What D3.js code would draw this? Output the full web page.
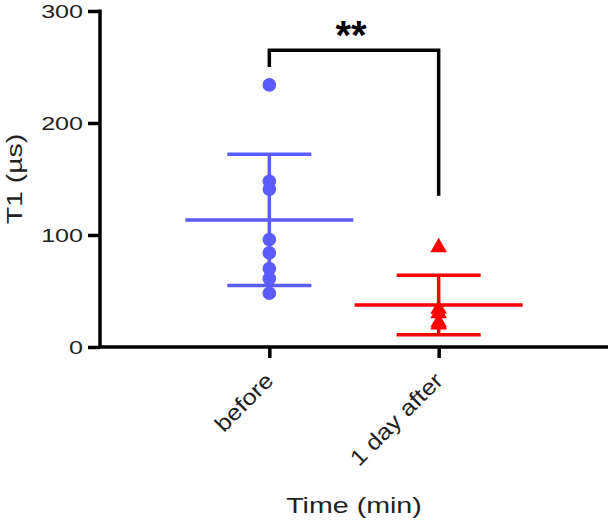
<!DOCTYPE html>
<html>
<head>
<meta charset="utf-8">
<script src="https://cdn.jsdelivr.net/npm/d3@7"></script>
<style>
  body { margin: 0; background: #fff; }
  text { font-family: "Liberation Sans", Arial, sans-serif; }
</style>
</head>
<body>
<div id="chart"></div>
<script>
// groups and values
const groups = ['before', '1 day after'];
const beforeValues = [234, 148, 141, 96, 84, 70, 61, 48];
const afterValues = [89, 34, 30, 22, 20];
const groupMeans = [113.5, 37.5];
const groupSDs = [58.5, 26.5];
const groupColors = ['#5b5bff', '#ff0000'];
const yTicks = [0, 100, 200, 300];
const sigLabel = '**';
const sigTop = 265;         // bracket height, in T1 units
const sigLegs = [250, 135]; // where each leg stops

const width = 610, height = 525;

// the original font is set wider than Liberation Sans, so stretch the glyphs a bit
function stretch(sel, k) {
  sel.each(function () {
    const len = this.getComputedTextLength();
    d3.select(this).attr('textLength', len * k).attr('lengthAdjust', 'spacingAndGlyphs');
  });
}

const svg = d3.select('#chart').append('svg')
  .attr('width', width)
  .attr('height', height);

const x = d3.scaleLinear().domain([-1, 2]).range([100, 608]);
const y = d3.scaleLinear().domain([0, 300]).range([347, 11]);

// y axis
const yAxis = svg.append('g')
  .attr('transform', 'translate(100,0)')
  .call(d3.axisLeft(y).tickValues(yTicks).tickSize(12).tickPadding(5));
yAxis.select('.domain').attr('stroke', '#000').attr('stroke-width', 3.5)
  .attr('d', `M0,${y(300) - 1.5}V${y(0)}`);
yAxis.selectAll('.tick line').attr('stroke-width', 3.5);
yAxis.selectAll('.tick text').attr('font-size', 19).attr('fill', '#222')
  .attr('font-family', '"Liberation Sans", Arial, sans-serif')
  .call(stretch, 1.32);

// x axis
const xAxis = svg.append('g')
  .attr('transform', `translate(0,${y(0)})`)
  .call(d3.axisBottom(x).tickValues([0, 1]).tickFormat(i => groups[i]).tickSize(11));
xAxis.select('.domain').attr('stroke', '#000').attr('stroke-width', 3.5)
  .attr('d', `M${x(-1) - 1.5},0H${x(2)}`);
xAxis.selectAll('.tick line').attr('stroke-width', 3.5);
xAxis.selectAll('.tick text')
  .attr('font-size', 22).attr('fill', '#222')
  .attr('font-family', '"Liberation Sans", Arial, sans-serif')
  .attr('text-anchor', 'end')
  .attr('dy', null)
  .attr('y', 0).attr('x', 0)
  .attr('transform', 'translate(5,35) rotate(-45)')
  .call(stretch, 1.16);

// axis titles
svg.append('text')
  .attr('transform', `translate(22,${(y(0) + y(300)) / 2}) rotate(-90)`)
  .attr('text-anchor', 'middle')
  .attr('font-size', 22).attr('fill', '#222')
  .text('T1 (µs)')
  .call(stretch, 1.29);

svg.append('text')
  .attr('x', 354).attr('y', 513)
  .attr('text-anchor', 'middle')
  .attr('font-size', 22).attr('fill', '#222')
  .text('Time (min)')
  .call(stretch, 1.3);

// mean and SD bars
groups.forEach((g, i) => {
  const c = groupColors[i];
  const cx = x(i);
  const bar = svg.append('g').attr('stroke', c).attr('stroke-width', 3.5).attr('fill', 'none');
  bar.append('line').attr('x1', cx).attr('x2', cx)
    .attr('y1', y(groupMeans[i] + groupSDs[i])).attr('y2', y(groupMeans[i] - groupSDs[i]));
  bar.append('line').attr('x1', cx - 84).attr('x2', cx + 84)
    .attr('y1', y(groupMeans[i])).attr('y2', y(groupMeans[i]));
  [groupMeans[i] + groupSDs[i], groupMeans[i] - groupSDs[i]].forEach(v => {
    bar.append('line').attr('x1', cx - 42).attr('x2', cx + 42)
      .attr('y1', y(v)).attr('y2', y(v));
  });
});

// points
svg.append('g').selectAll('circle')
  .data(beforeValues)
  .join('circle')
  .attr('cx', x(0))
  .attr('cy', d => y(d))
  .attr('r', 6.8)
  .attr('fill', groupColors[0]);

const tri = d3.symbol().type(d3.symbolTriangle).size(120);
svg.append('g').selectAll('path')
  .data(afterValues)
  .join('path')
  .attr('d', tri)
  .attr('transform', d => `translate(${x(1)},${y(d)})`)
  .attr('fill', groupColors[1]);

// significance bracket
svg.append('path')
  .attr('d', `M${x(0)},${y(sigLegs[0])}V${y(sigTop)}H${x(1)}V${y(sigLegs[1])}`)
  .attr('fill', 'none')
  .attr('stroke', '#000')
  .attr('stroke-width', 3.5);

svg.append('text')
  .attr('x', (x(0) + x(1)) / 2 - 3)
  .attr('y', y(sigTop) - 1)
  .attr('text-anchor', 'middle')
  .attr('font-size', 40)
  .attr('font-weight', 'bold')
  .attr('fill', '#000')
  .text(sigLabel);
</script>
</body>
</html>
